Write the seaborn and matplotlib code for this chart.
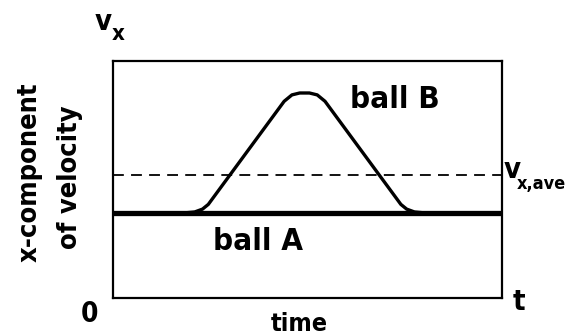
import matplotlib
matplotlib.use("Agg")
import matplotlib.pyplot as plt
import seaborn as sns
import pandas as pd

sns.set_theme(style="white")
plt.rcParams['font.family'] = ['DejaVu Sans']

# data (arbitrary units, x: time 0..10, y: velocity 0..10)
ball_a_t = [0.0, 10.0]
ball_a_v = [3.6, 3.6]
ball_b_t = [1.9, 2.1, 2.3, 2.45, 4.4, 4.6, 4.8, 5.05, 5.25, 5.45, 7.4, 7.55, 7.75, 7.95]
ball_b_v = [3.6, 3.63, 3.75, 3.95, 8.3, 8.57, 8.65, 8.65, 8.57, 8.3, 3.95, 3.75, 3.63, 3.6]
v_ave = 5.2

dfa = pd.DataFrame({"t": ball_a_t, "v": ball_a_v})
dfb = pd.DataFrame({"t": ball_b_t, "v": ball_b_v})

fig = plt.figure(figsize=(5.79, 3.35), dpi=100)
ax = fig.add_axes([113/579, 1-298/335, 389/579, 237/335])

sns.lineplot(data=dfb, x="t", y="v", ax=ax, color="black", lw=2.4, sort=False,
             solid_joinstyle="round", solid_capstyle="round")
sns.lineplot(data=dfa, x="t", y="v", ax=ax, color="black", lw=3.8)
ax.axhline(v_ave, color="black", lw=1.3, ls=(0, (6, 4)))

ax.set_xlim(0, 10)
ax.set_ylim(0, 10)
ax.set_xticks([])
ax.set_yticks([])
ax.set_xlabel("")
ax.set_ylabel("")
for s in ax.spines.values():
    s.set_color("black")
    s.set_linewidth(1.6)

tkw = dict(fontweight="bold", color="black", fontstretch="condensed")
fig.text(103/579, 1-22/335, "v", fontsize=21, ha="center", va="center", **tkw)
fig.text(118/579, 1-34/335, "x", fontsize=16, ha="center", va="center", **tkw)
fig.text(30/579, 1-172/335, "x-component", fontsize=19.5, rotation=90, ha="center", va="center", **tkw)
fig.text(70/579, 1-177/335, "of velocity", fontsize=19.5, rotation=90, ha="center", va="center", **tkw)
fig.text(90/579, 1-314/335, "0", fontsize=20, ha="center", va="center", **tkw)
fig.text(299/579, 1-331/335, "time", fontsize=18, ha="center", va="baseline", **tkw)
fig.text(519/579, 1-302/335, "t", fontsize=21, ha="center", va="center", **tkw)
fig.text(395/579, 1-100/335, "ball B", fontsize=22.5, ha="center", va="center", **tkw)
fig.text(258/579, 1-241/335, "ball A", fontsize=22.5, ha="center", va="center", **tkw)
fig.text(504/579, 1-170/335, "v", fontsize=21, ha="left", va="center", **tkw)
fig.text(517/579, 1-184/335, "x,ave", fontsize=13, ha="left", va="center", **tkw)

fig.savefig("out.png", dpi=100)
